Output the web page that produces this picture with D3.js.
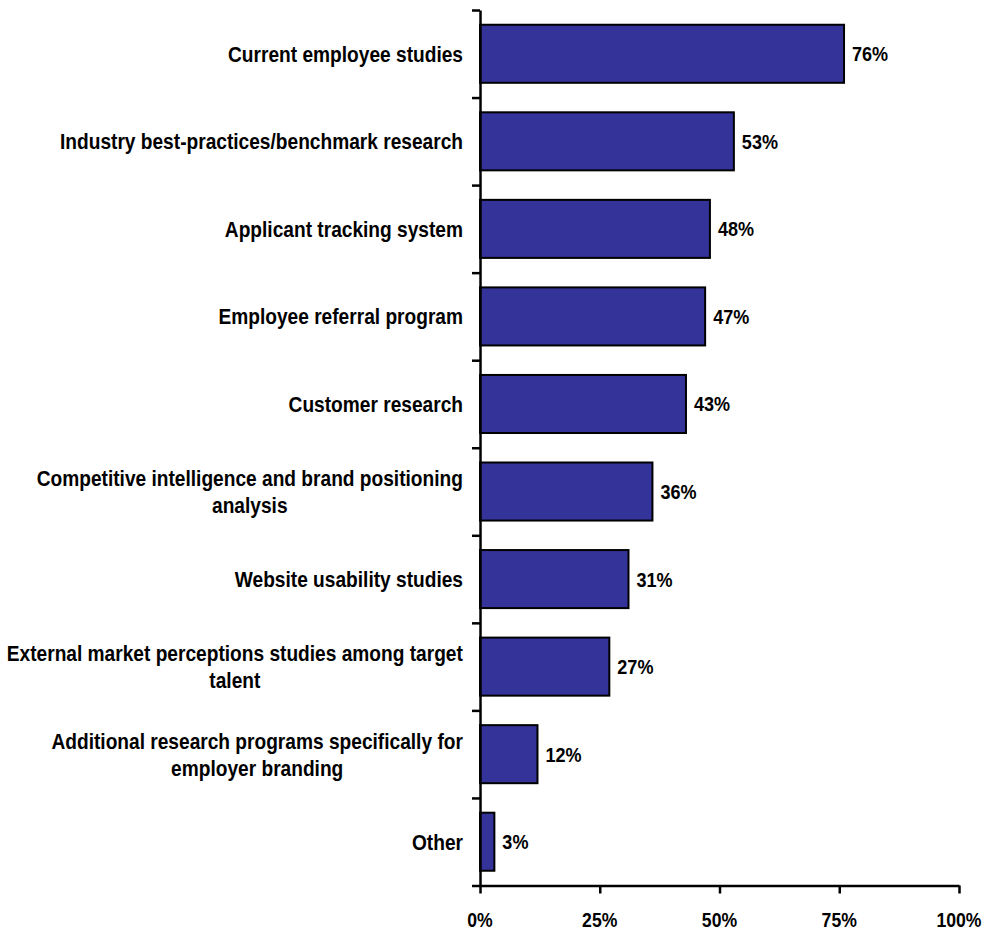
<!DOCTYPE html>
<html>
<head>
<meta charset="utf-8">
<script src="https://cdn.jsdelivr.net/npm/d3@7/dist/d3.min.js"></script>
<style>
  html, body { margin: 0; padding: 0; background: #ffffff; }
  svg { display: block; }
  text { font-family: "Liberation Sans", Arial, sans-serif; font-weight: bold; fill: #000; }
</style>
</head>
<body>
<svg id="chart" width="988" height="930"></svg>
<script>
// Share of respondents using each research input (%)
const categories = [
  "Current employee studies",
  "Industry best-practices/benchmark research",
  "Applicant tracking system",
  "Employee referral program",
  "Customer research",
  "Competitive intelligence and brand positioning analysis",
  "Website usability studies",
  "External market perceptions studies among target talent",
  "Additional research programs specifically for employer branding",
  "Other"
];
const values = [76, 53, 48, 47, 43, 36, 31, 27, 12, 3];
const xTicks = [0, 25, 50, 75, 100];

const svg = d3.select("#chart");
const plotLeft = 480, plotRight = 959, plotTop = 10, plotBottom = 885.5;

const x = d3.scaleLinear().domain([0, 100]).range([plotLeft, plotRight]);
const pad = 0.337;
const y = d3.scaleBand()
  .domain(categories)
  .range([plotTop, plotBottom])
  .paddingInner(pad)
  .paddingOuter(pad / 2);
// boundary positions between categories, for the y-axis tick marks
const yEdge = d3.scaleLinear().domain([0, categories.length]).range([plotTop, plotBottom]);

// narrow bold text: wider font size, compressed horizontally
function label(g, px, py, str, size, sx, anchor) {
  return g.append("text")
    .attr("transform", `translate(${px},${py}) scale(${sx},1)`)
    .attr("text-anchor", anchor)
    .style("font-size", size + "px")
    .text(str);
}

// bars
svg.append("g").selectAll("rect")
  .data(values)
  .join("rect")
  .attr("x", x(0))
  .attr("y", (d, i) => y(categories[i]))
  .attr("width", d => x(d) - x(0))
  .attr("height", y.bandwidth())
  .attr("fill", "#333399")
  .attr("stroke", "#000")
  .attr("stroke-width", 2);

// value labels
const vg = svg.append("g");
values.forEach((v, i) => {
  label(vg, x(v) + 8, y(categories[i]) + y.bandwidth() / 2 + 7.5, v + "%", 21, 0.86, "start");
});

// y axis (ticks between categories)
const yAxis = svg.append("g")
  .attr("transform", `translate(${plotLeft},0)`)
  .call(d3.axisLeft(yEdge).tickValues(d3.range(categories.length + 1)).tickFormat("").tickSize(8).tickSizeOuter(0));
yAxis.select(".domain").attr("stroke", "#000").attr("stroke-width", 2.5);
yAxis.selectAll(".tick line").attr("stroke", "#000").attr("stroke-width", 2.5);

// x axis
const xAxis = svg.append("g")
  .attr("transform", `translate(0,${plotBottom})`)
  .call(d3.axisBottom(x).tickValues(xTicks).tickFormat("").tickSize(8).tickSizeOuter(0));
xAxis.select(".domain").attr("stroke", "#000").attr("stroke-width", 2.5);
xAxis.selectAll(".tick line").attr("stroke", "#000").attr("stroke-width", 2.5);
const xg = svg.append("g");
xTicks.forEach(t => label(xg, x(t), 927, t + "%", 21, 0.84, "middle"));

// category labels, wrapped to two centred lines when too long
const cg = svg.append("g");
const sxCat = 0.87, fsCat = 22, maxW = 462, lineH = 27, rightEdge = 463;
categories.forEach(c => {
  const words = c.split(" ");
  const probe = cg.append("text").style("font-size", fsCat + "px");
  const lines = [];
  let cur = [];
  words.forEach(w => {
    const test = cur.concat([w]).join(" ");
    probe.text(test);
    if (probe.node().getComputedTextLength() * sxCat > maxW && cur.length) {
      lines.push(cur.join(" "));
      cur = [w];
    } else {
      cur.push(w);
    }
  });
  lines.push(cur.join(" "));
  const widths = lines.map(l => { probe.text(l); return probe.node().getComputedTextLength() * sxCat; });
  probe.remove();
  const maxLine = d3.max(widths);
  const cy = y(c) + y.bandwidth() / 2;
  const y0 = cy - (lines.length - 1) * lineH / 2 + 8;
  lines.forEach((l, k) => {
    if (lines.length === 1) {
      label(cg, rightEdge, y0, l, fsCat, sxCat, "end");
    } else {
      label(cg, rightEdge - maxLine / 2, y0 + k * lineH, l, fsCat, sxCat, "middle");
    }
  });
});
</script>
</body>
</html>
